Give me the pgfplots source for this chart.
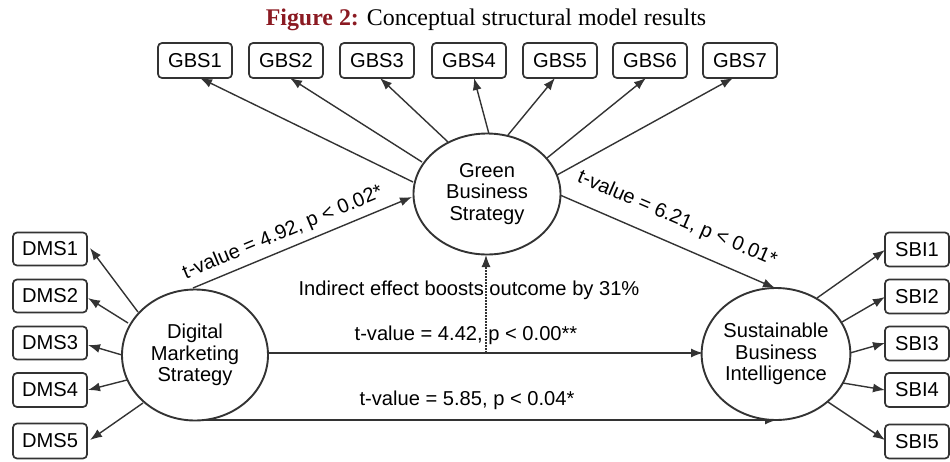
\documentclass[border=0pt]{standalone}
\usepackage{fontspec}
\setmainfont{Liberation Serif}
\newfontfamily\arial{Liberation Sans}
\usepackage{pgfplots}
\pgfplotsset{compat=1.18}
\usetikzlibrary{arrows.meta,shapes.geometric}
\definecolor{titlered}{HTML}{8B1A22}
\definecolor{ln}{HTML}{333333}
\begin{document}
\begin{tikzpicture}[
  lbl/.style={font=\arial\fontsize{20.2}{21.8}\selectfont, text=black, inner sep=0pt},
  box/.style={lbl, draw=ln, line width=1.7bp, rounded corners=4bp, minimum height=35bp, minimum width=74bp},
  sbox/.style={box, minimum width=64bp},
  latent/.style={lbl, draw=ln, line width=1.9bp, ellipse, align=center, fill=white},
  arr/.style={draw=ln, line width=1.4bp, -{Latex[length=12bp,width=9bp]}, no marks},
]
\begin{axis}[
  x=1bp, y=1bp, xmin=0, xmax=950, ymin=0, ymax=462,
  y dir=reverse, hide axis, clip=false, scale only axis,
]
% title
\node[anchor=base, font=\fontsize{24}{28}\selectfont, inner sep=0pt] at (486,25)
  {\textcolor{titlered}{\bfseries Figure 2:} Conceptual structural model results};

% GBS indicator arrows
\addplot[arr] coordinates {(413,182) (200,78)};
\addplot[arr] coordinates {(422,162) (290,78)};
\addplot[arr] coordinates {(448,142) (380,78)};
\addplot[arr] coordinates {(489,134) (474,78)};
\addplot[arr] coordinates {(508,135) (555,78)};
\addplot[arr] coordinates {(547,158) (646,78)};
\addplot[arr] coordinates {(557,175) (733,78)};

% DMS indicator arrows
\addplot[arr] coordinates {(138,312) (90,248)};
\addplot[arr] coordinates {(128,323) (88,298)};
\addplot[arr] coordinates {(122,355) (88,345)};
\addplot[arr] coordinates {(127,380) (88,390)};
\addplot[arr] coordinates {(143,403) (90,440)};

% SBI indicator arrows
\addplot[arr] coordinates {(817,298) (885,250)};
\addplot[arr] coordinates {(842,322) (885,297)};
\addplot[arr] coordinates {(850,353) (885,343)};
\addplot[arr] coordinates {(843,383) (885,390)};
\addplot[arr] coordinates {(828,402) (885,440)};

% structural paths
\addplot[arr] coordinates {(193,288) (412,197)};
\addplot[arr] coordinates {(560,195) (775,288)};
\addplot[arr] coordinates {(268,353) (703,353)};
\addplot[arr] coordinates {(193,420) (777,420)};
\addplot[draw=ln, line width=1.1bp, dash pattern=on 1.6bp off 1.4bp, -{Latex[length=12bp,width=9bp]}, no marks]
  coordinates {(486,353) (486,255)};

% boxes
\node[box] at (195,60.5) {GBS1};
\node[box] at (286,60.5) {GBS2};
\node[box] at (377,60.5) {GBS3};
\node[box] at (469,60.5) {GBS4};
\node[box] at (560,60.5) {GBS5};
\node[box] at (650,60.5) {GBS6};
\node[box] at (740,60.5) {GBS7};

\node[box, minimum height=33bp] at (50,249) {DMS1};
\node[box, minimum height=33bp] at (50,296) {DMS2};
\node[box, minimum height=33bp] at (50,343) {DMS3};
\node[box, minimum height=34bp] at (50,390) {DMS4};
\node[box, minimum height=35bp] at (50,441) {DMS5};

\node[sbox, minimum height=34bp] at (917,249.5) {SBI1};
\node[sbox, minimum height=34bp] at (917,296.5) {SBI2};
\node[sbox, minimum height=34bp] at (917,343.5) {SBI3};
\node[sbox, minimum height=34bp] at (917,390) {SBI4};
\node[sbox, minimum height=34bp] at (917,441.5) {SBI5};

% latent variables
\node[latent, minimum width=147bp, minimum height=121bp] at (487,194) {Green\\Business\\Strategy};
\node[latent, minimum width=146bp, minimum height=131bp] at (195,355) {Digital\\Marketing\\Strategy};
\node[latent, minimum width=147bp, minimum height=132bp] at (776,354) {Sustainable\\Business\\Intelligence};

% path labels
\node[lbl, rotate=22.6] at (283,233) {t-value = 4.92, p < 0.02*};
\node[lbl, rotate=-23.4] at (677,219) {t-value = 6.21, p < 0.01*};
\node[lbl] at (469,290) {Indirect effect boosts outcome by 31\%};
\node[lbl] at (466,335) {t-value = 4.42, p < 0.00**};
\node[lbl] at (467,400) {t-value = 5.85, p < 0.04*};
\end{axis}
\pgfresetboundingbox
\path (0,0) rectangle (950bp,462bp);
\end{tikzpicture}
\end{document}
